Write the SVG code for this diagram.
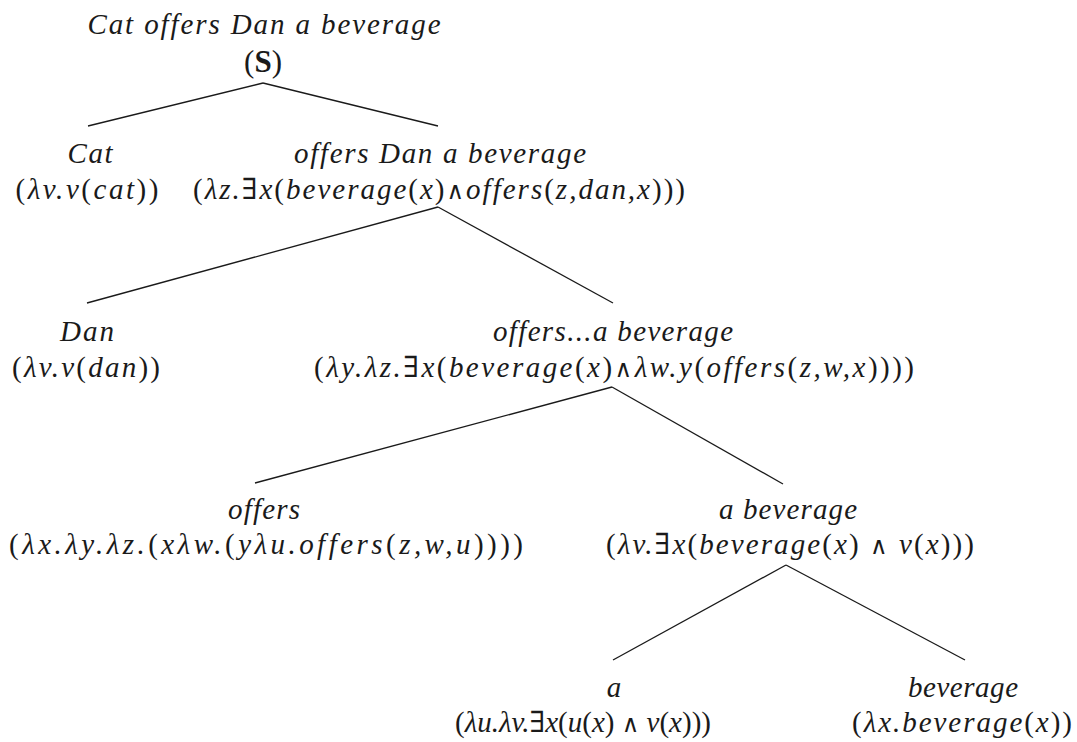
<svg xmlns="http://www.w3.org/2000/svg" width="1077" height="742" viewBox="0 0 1077 742">
<style>
text{font-family:"Liberation Serif","DejaVu Serif",serif;font-style:italic;font-size:29px;fill:#1a1a1a;text-anchor:middle}
.u{font-style:normal}
.b{font-style:normal;font-weight:bold}
.w{font-style:normal;font-family:"DejaVu Serif",serif;font-size:24px}
line{stroke:#1a1a1a;stroke-width:1.3;fill:none}
</style>
<rect width="1077" height="742" fill="#fff"/>
<g id="connectors">
<line x1="263" y1="83" x2="88" y2="126"/>
<line x1="263" y1="83" x2="438" y2="126"/>
<line x1="438" y1="207" x2="87" y2="303"/>
<line x1="438" y1="207" x2="613" y2="303"/>
<line x1="612" y1="387" x2="255" y2="483"/>
<line x1="612" y1="387" x2="783" y2="484"/>
<line x1="786" y1="565" x2="613" y2="660"/>
<line x1="786" y1="565" x2="965" y2="660"/>
</g>
<g id="n-root">
<text x="264" y="34" textLength="353">Cat offers Dan a beverage</text>
<text x="263" y="72" class="u" style="font-size:31px">(<tspan class="b">S</tspan>)</text>
</g>
<g id="n-cat">
<text x="90" y="163" textLength="45">Cat</text>
<text x="87" y="199" textLength="143"><tspan class="u">(</tspan>λv.v<tspan class="u">(</tspan>cat<tspan class="u">))</tspan></text>
</g>
<g id="n-vp">
<text x="440" y="163" textLength="292">offers Dan a beverage</text>
<text x="439" y="199" textLength="492"><tspan class="u">(</tspan>λz.∃x<tspan class="u">(</tspan>beverage<tspan class="u">(</tspan>x<tspan class="u">)</tspan><tspan class="w">∧</tspan>offers<tspan class="u">(</tspan>z,dan,x<tspan class="u">)))</tspan></text>
</g>
<g id="n-dan">
<text x="87" y="341" textLength="54">Dan</text>
<text x="86" y="377" textLength="148"><tspan class="u">(</tspan>λv.v<tspan class="u">(</tspan>dan<tspan class="u">))</tspan></text>
</g>
<g id="n-v1">
<text x="613" y="341" textLength="240">offers...a beverage</text>
<text x="614" y="377" textLength="600"><tspan class="u">(</tspan>λy.λz.∃x<tspan class="u">(</tspan>beverage<tspan class="u">(</tspan>x<tspan class="u">)</tspan><tspan class="w">∧</tspan>λw.y<tspan class="u">(</tspan>offers<tspan class="u">(</tspan>z,w,x<tspan class="u">))))</tspan></text>
</g>
<g id="n-offers">
<text x="264" y="519" textLength="72">offers</text>
<text x="266" y="554" textLength="514"><tspan class="u">(</tspan>λx.λy.λz.<tspan class="u">(</tspan>xλw.<tspan class="u">(</tspan>yλu.offers<tspan class="u">(</tspan>z,w,u<tspan class="u">))))</tspan></text>
</g>
<g id="n-np">
<text x="788" y="519" textLength="138">a beverage</text>
<text x="790" y="554" textLength="368"><tspan class="u">(</tspan>λv.∃x<tspan class="u">(</tspan>beverage<tspan class="u">(</tspan>x<tspan class="u">) </tspan><tspan class="w">∧</tspan><tspan class="u"> </tspan>v<tspan class="u">(</tspan>x<tspan class="u">)))</tspan></text>
</g>
<g id="n-a">
<text x="614" y="697">a</text>
<text x="583" y="732" textLength="256"><tspan class="u">(</tspan>λu.λv.∃x<tspan class="u">(</tspan>u<tspan class="u">(</tspan>x<tspan class="u">) </tspan><tspan class="w">∧</tspan><tspan class="u"> </tspan>v<tspan class="u">(</tspan>x<tspan class="u">)))</tspan></text>
</g>
<g id="n-bev">
<text x="963" y="697" textLength="110">beverage</text>
<text x="962" y="732" textLength="220"><tspan class="u">(</tspan>λx.beverage<tspan class="u">(</tspan>x<tspan class="u">))</tspan></text>
</g>
</svg>
